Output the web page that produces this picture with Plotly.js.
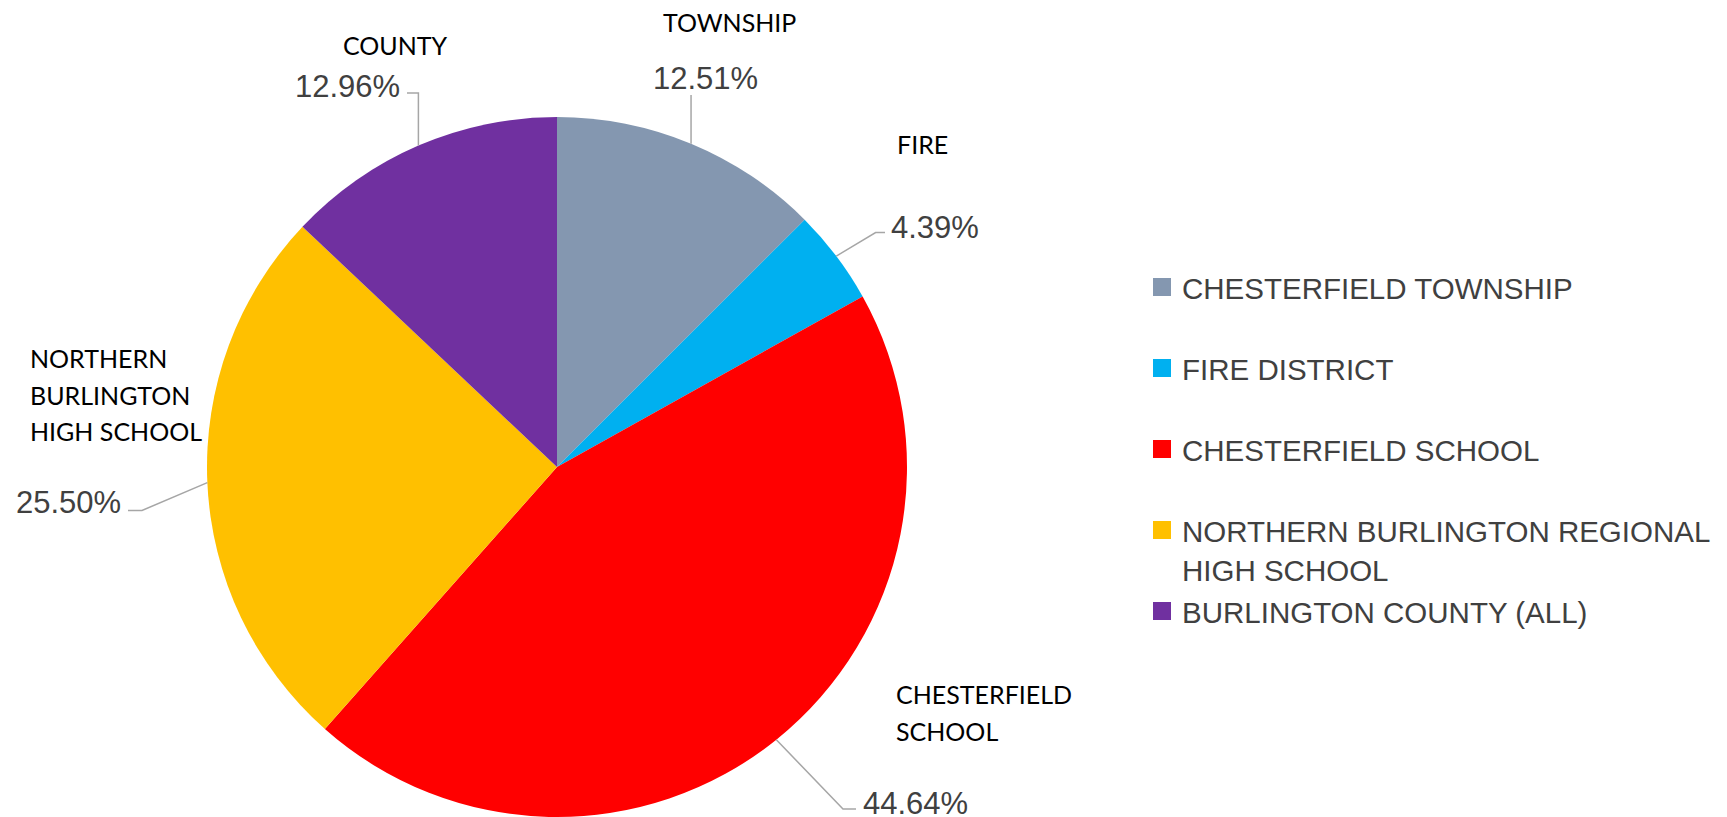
<!DOCTYPE html>
<html><head><meta charset="utf-8">
<script src="https://cdn.plot.ly/plotly-3.0.1.min.js"></script>
<style>html,body{margin:0;padding:0;background:#fff;overflow:hidden}#chart{width:1727px;height:817px}</style>
</head><body><div id="chart"></div>
<script>
// ---- data ----
const categories = ["CHESTERFIELD TOWNSHIP", "FIRE DISTRICT", "CHESTERFIELD SCHOOL", "NORTHERN BURLINGTON REGIONAL HIGH SCHOOL", "BURLINGTON COUNTY (ALL)"];
const shares = [12.51, 4.39, 44.64, 25.50, 12.96];
const legendLabels = ["CHESTERFIELD TOWNSHIP", "FIRE DISTRICT", "CHESTERFIELD SCHOOL", "NORTHERN BURLINGTON REGIONAL<br>HIGH SCHOOL", "BURLINGTON COUNTY (ALL)"];
const sliceLabels = [["TOWNSHIP"], ["FIRE"], ["CHESTERFIELD", "SCHOOL"], ["NORTHERN", "BURLINGTON", "HIGH SCHOOL"], ["COUNTY"]];
const colors = ["#8497B0", "#00B0F0", "#FF0000", "#FFC000", "#7030A0"];

// ---- layout (pixels) ----
const W = 1727, H = 817;
const PIE = {cx: 557, cy: 467, r: 350};
const PCT_FONT = 31, CAT_FONT = 25, CAT_LINE = 36.5, LEG_FONT = 30, LEG_TEXT = 29.5;
// label placement: pct = anchor point of percentage, cat = first-line cap centre, leader = elbow points
const place = [
  {pct: {x: 705, y: 77.5, a: 'center'}, cat: {x: 729, y: 21, a: 'center'}, leader: [['edge', 95]]},
  {pct: {x: 889, y: 226, a: 'left'}, cat: {x: 922, y: 143, a: 'center'}, leader: [[875.6, 232.5], [885, 232.5]]},
  {pct: {x: 861, y: 802, a: 'left'}, cat: {x: 894, y: 693, a: 'left'}, leader: [[843, 809], [856, 809]]},
  {pct: {x: 123, y: 502, a: 'right'}, cat: {x: 28, y: 357, a: 'left'}, leader: [[142, 510.5], [128, 510.5]]},
  {pct: {x: 402, y: 85, a: 'right'}, cat: {x: 395, y: 44, a: 'center'}, leader: [['edge', 93], [407, 93]]}
];

const px = x => x / W, py = y => 1 - y / H;
const total = shares.reduce((a, b) => a + b, 0);
const annotations = [], shapes = [];
let cum = 0;
shares.forEach((v, i) => {
  const mid = (cum + v / 2) / total * 2 * Math.PI;
  cum += v;
  const ex = PIE.cx + PIE.r * Math.sin(mid), ey = PIE.cy - PIE.r * Math.cos(mid);
  const p = place[i];
  let path = `M${px(ex)},${py(ey)}`;
  p.leader.forEach(([x, y]) => { const xx = x === 'edge' ? ex : x; path += ` L${px(xx)},${py(y)}`; });
  shapes.push({type: 'path', xref: 'paper', yref: 'paper', path, line: {color: '#A6A6A6', width: 1.5}});
  annotations.push({xref: 'paper', yref: 'paper', x: px(p.pct.x), y: py(p.pct.y + 1), xanchor: p.pct.a, yanchor: 'middle',
    text: v.toFixed(2) + '%', showarrow: false, font: {family: 'Liberation Sans, Arial, sans-serif', size: PCT_FONT, color: '#404040'}});
  sliceLabels[i].forEach((t, k) => {
    annotations.push({xref: 'paper', yref: 'paper', x: px(p.cat.x), y: py(p.cat.y + k * CAT_LINE + 1), xanchor: p.cat.a, yanchor: 'middle',
      text: t, showarrow: false, font: {family: 'Lato, Carlito, sans-serif', size: CAT_FONT, color: '#000000'}});
  });
});

const trace = {
  type: 'pie', values: shares,
  // legend entries: every entry spans two lines so that all items get equal height
  labels: legendLabels.map(l => `<span style="font-size:${LEG_TEXT}px">` + l.replace('<br>', `</span><br><span style="font-size:${LEG_TEXT}px">`) + '</span>' + (l.includes('<br>') ? '' : '<br> ')),
  marker: {colors, line: {width: 0}}, sort: false, direction: 'clockwise', rotation: 0,
  textinfo: 'none', hoverinfo: 'percent',
  domain: {x: [(PIE.cx - PIE.r) / W, (PIE.cx + PIE.r) / W], y: [(H - PIE.cy - PIE.r) / H, (H - PIE.cy + PIE.r) / H]}
};

const layout = {
  width: W, height: H, margin: {l: 0, r: 0, t: 0, b: 0}, paper_bgcolor: '#fff', showlegend: true,
  legend: {x: px(1142), xanchor: 'left', y: py(261), yanchor: 'top', valign: 'top',
    font: {family: 'Liberation Sans, Arial, sans-serif', size: LEG_FONT, color: '#404040'}},
  annotations, shapes
};
Plotly.newPlot('chart', [trace], layout, {displayModeBar: false, staticPlot: true}).then(() => {
  document.querySelectorAll('path.legendpie').forEach(p => p.setAttribute('d', 'M9,9H-9V-9H9Z'));
});
</script></body></html>
